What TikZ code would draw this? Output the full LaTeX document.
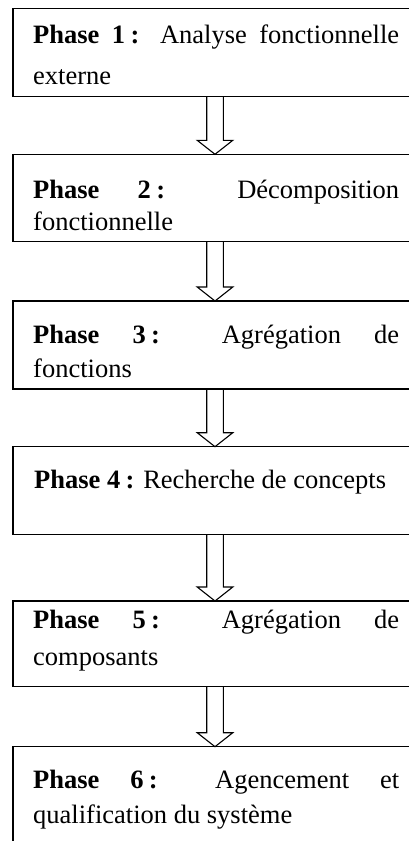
\documentclass[tikz,border=0pt]{standalone}
\usepackage{fontspec}
\setmainfont{Liberation Serif}
\usetikzlibrary{calc}
\tikzset{
  phasebox/.style={draw, line width=1.4pt, rectangle, inner sep=0pt, outer sep=0pt, anchor=north west, minimum width=404pt},
  phasetext/.style={inner sep=0pt, anchor=base west, font=\fontsize{26.5}{30}\selectfont},
  phasearrow/.style={draw, line width=1.1pt, line join=miter},
}
\newcommand{\jline}[1]{\makebox[366pt][s]{#1}}
\newcommand{\linkarrow}[2]{%
  \draw[phasearrow] ($(#1.south)+(-8.3,0)$) -- ($(#2.north)+(-8.3,14)$) -- ($(#2.north)+(-17.8,14)$) -- (#2.north) -- ($(#2.north)+(17.8,14)$) -- ($(#2.north)+(8.3,14)$) -- ($(#1.south)+(8.3,0)$);}
\begin{document}
\begin{tikzpicture}[x=1pt,y=1pt]
\useasboundingbox (0,0) rectangle (409,-841);
\begin{scope}
\clip (0,0) rectangle (409,-841);
\fill[white] (0,0) rectangle (409,-841);
\node[phasebox, minimum height=88pt] (b1) at (13,-8.3) {};
\node[phasebox, minimum height=87.4pt] (b2) at (13,-154.3) {};
\node[phasebox, minimum height=88pt] (b3) at (13,-301) {};
\node[phasebox, minimum height=87.6pt] (b4) at (13,-446.7) {};
\node[phasebox, minimum height=85.7pt] (b5) at (13,-601) {};
\node[phasebox, minimum height=130pt] (b6) at (13,-746.7) {};

\node[phasetext] (t1a) at (33,-43) {\jline{\textbf{Phase 1\hspace{0.2em}:} Analyse fonctionnelle}};
\node[phasetext] (t1b) at (33,-84) {externe};
\node[phasetext] (t2a) at (33,-198) {\jline{\textbf{Phase 2\hspace{0.2em}:} Décomposition}};
\node[phasetext] (t2b) at (33,-230) {fonctionnelle};
\node[phasetext] (t3a) at (33,-343) {\jline{\textbf{Phase 3\hspace{0.2em}:} Agrégation de}};
\node[phasetext] (t3b) at (33,-377) {fonctions};
\node[phasetext] (t4a) at (34,-488) {\textbf{Phase 4\hspace{0.2em}:} Recherche de concepts};
\node[phasetext] (t5a) at (33,-628) {\jline{\textbf{Phase 5\hspace{0.2em}:} Agrégation de}};
\node[phasetext] (t5b) at (33,-665) {composants};
\node[phasetext] (t6a) at (33,-788) {\jline{\textbf{Phase 6\hspace{0.2em}:} Agencement et}};
\node[phasetext] (t6b) at (33,-823) {qualification du système};

\linkarrow{b1}{b2}
\linkarrow{b2}{b3}
\linkarrow{b3}{b4}
\linkarrow{b4}{b5}
\linkarrow{b5}{b6}
\end{scope}
\end{tikzpicture}
\end{document}
